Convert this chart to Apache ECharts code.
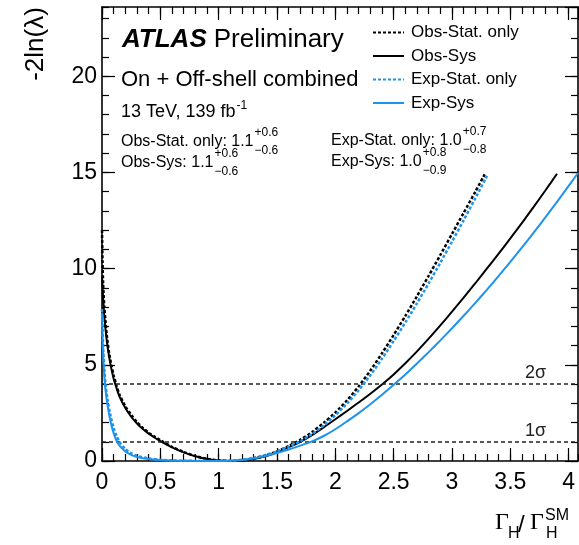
<!DOCTYPE html>
<html>
<head>
<meta charset="utf-8">
<script src="https://cdn.jsdelivr.net/npm/echarts@6/dist/echarts.min.js"></script>
<style>
  html, body { margin: 0; padding: 0; background: #fff; }
  #chart { width: 579px; height: 545px; }
</style>
</head>
<body>
<div id="chart"></div>
<script>
  const FONT = "'Liberation Sans', Arial, Helvetica, sans-serif";
  const SERIF = "'Liberation Serif', 'DejaVu Serif', serif";
  const BLUE = '#1e93ec';

  // profile likelihood scans: [Gamma_H/Gamma_H^SM, -2ln(lambda)]
  const obsStat = [
    [0, 12.0], [0.005, 10.3], [0.01, 9.2], [0.02, 8.0], [0.04, 6.6], [0.06, 5.65], [0.08, 5.0],
    [0.1, 4.45], [0.125, 3.9], [0.15, 3.45], [0.2, 2.85], [0.25, 2.4], [0.3, 2.02], [0.35, 1.72],
    [0.4, 1.47], [0.45, 1.27], [0.5, 1.08], [0.6, 0.74], [0.7, 0.47], [0.8, 0.26], [0.9, 0.11],
    [1.0, 0.03], [1.1, 0], [1.2, 0.03], [1.3, 0.12], [1.4, 0.28], [1.5, 0.5], [1.6, 0.78],
    [1.7, 1.1], [1.8, 1.5], [1.9, 1.98], [2.0, 2.52], [2.1, 3.15], [2.2, 3.88], [2.3, 4.7],
    [2.4, 5.6], [2.5, 6.55], [2.6, 7.54], [2.7, 8.57], [2.8, 9.63], [2.9, 10.71], [3.0, 11.8],
    [3.1, 12.9], [3.2, 14.0], [3.28, 14.9]
  ];
  const obsSys = [
    [0, 9.6], [0.005, 9.0], [0.01, 8.4], [0.02, 7.5], [0.04, 6.3], [0.06, 5.45], [0.08, 4.8],
    [0.1, 4.28], [0.125, 3.78], [0.15, 3.35], [0.2, 2.75], [0.25, 2.3], [0.3, 1.95], [0.35, 1.66],
    [0.4, 1.42], [0.45, 1.22], [0.5, 1.03], [0.6, 0.71], [0.7, 0.45], [0.8, 0.25], [0.9, 0.1],
    [1.0, 0.025], [1.1, 0], [1.2, 0.025], [1.3, 0.1], [1.4, 0.24], [1.5, 0.45], [1.6, 0.72],
    [1.7, 1.0], [1.8, 1.35], [1.9, 1.75], [2.0, 2.17], [2.1, 2.6], [2.2, 3.04], [2.3, 3.5],
    [2.4, 3.98], [2.5, 4.5], [2.6, 5.08], [2.7, 5.7], [2.8, 6.36], [2.9, 7.05], [3.0, 7.76],
    [3.1, 8.49], [3.2, 9.24], [3.3, 10.01], [3.4, 10.78], [3.5, 11.57], [3.6, 12.38], [3.7, 13.21],
    [3.8, 14.06], [3.9, 14.93]
  ];
  const expStat = [
    [0, 7.9], [0.005, 6.8], [0.01, 5.9], [0.02, 4.8], [0.03, 4.0], [0.05, 3.1], [0.075, 2.3],
    [0.1, 1.72], [0.125, 1.3], [0.15, 1.0], [0.2, 0.62], [0.25, 0.4], [0.3, 0.27], [0.4, 0.13],
    [0.5, 0.065], [0.6, 0.03], [0.7, 0.014], [0.8, 0.005], [0.9, 0.001], [1.0, 0], [1.1, 0.015],
    [1.2, 0.07], [1.3, 0.17], [1.4, 0.31], [1.5, 0.5], [1.6, 0.74], [1.7, 1.03], [1.8, 1.4],
    [1.9, 1.85], [2.0, 2.38], [2.1, 2.99], [2.2, 3.68], [2.3, 4.46], [2.4, 5.32], [2.5, 6.24],
    [2.6, 7.2], [2.7, 8.2], [2.8, 9.24], [2.9, 10.31], [3.0, 11.4], [3.1, 12.52], [3.2, 13.66],
    [3.3, 14.82]
  ];
  const expSys = [
    [0, 7.7], [0.005, 6.4], [0.01, 5.5], [0.02, 4.4], [0.03, 3.7], [0.05, 2.8], [0.075, 2.0],
    [0.1, 1.45], [0.125, 1.05], [0.15, 0.8], [0.2, 0.5], [0.25, 0.32], [0.3, 0.21], [0.4, 0.1],
    [0.5, 0.05], [0.6, 0.024], [0.7, 0.011], [0.8, 0.004], [0.9, 0.001], [1.0, 0], [1.1, 0.01],
    [1.2, 0.05], [1.3, 0.13], [1.4, 0.26], [1.5, 0.42], [1.6, 0.6], [1.7, 0.8], [1.8, 1.02],
    [1.9, 1.3], [2.0, 1.65], [2.1, 2.06], [2.2, 2.49], [2.3, 2.95], [2.4, 3.44], [2.5, 3.96],
    [2.6, 4.5], [2.7, 5.07], [2.8, 5.66], [2.9, 6.27], [3.0, 6.9], [3.1, 7.55], [3.2, 8.22],
    [3.3, 8.91], [3.4, 9.62], [3.5, 10.35], [3.6, 11.1], [3.7, 11.87], [3.8, 12.66], [3.9, 13.47],
    [4.0, 14.3], [4.08, 14.97]
  ];

  const seriesNames = ['Obs-Stat. only', 'Obs-Sys', 'Exp-Stat. only', 'Exp-Sys'];
  const sigmaLevels = [1, 4];
  const sigmaLabels = ['1σ', '2σ'];

  // fit results written on the plot
  const fitNames = ['Obs-Stat. only: ', 'Obs-Sys: ', 'Exp-Stat. only: ', 'Exp-Sys: '];
  const fitCentral = ['1.1', '1.1', '1.0', '1.0'];
  const fitUp = ['+0.6', '+0.6', '+0.7', '+0.8'];
  const fitDown = ['\u22120.6', '\u22120.6', '\u22120.8', '\u22120.9'];

  const xMax = 4.08, yMax = 23.6;

  // measure text so super/subscripts sit right after the base text
  const ctx = document.createElement('canvas').getContext('2d');
  function textWidth(str, size, weight, style, family) {
    ctx.font = (style || 'normal') + ' ' + (weight || 'normal') + ' ' + size + 'px ' + (family || FONT);
    return ctx.measureText(str).width;
  }

  function txt(x, y, text, size, extra) {
    extra = extra || {};
    return {
      type: 'text', x: x, y: y, rotation: extra.rotation || 0, silent: true,
      style: {
        text: text, fontSize: size, fontFamily: extra.family || FONT,
        fontWeight: extra.weight || 'normal', fontStyle: extra.style || 'normal',
        fill: '#000', align: extra.align || 'left', verticalAlign: 'middle'
      }
    };
  }

  const graphics = [];
  // ATLAS label
  graphics.push(txt(122, 40, 'ATLAS', 26, { weight: 'bold', style: 'italic' }));
  const atlasW = textWidth('ATLAS', 26, 'bold', 'italic');
  graphics.push(txt(122 + atlasW + 7, 40, 'Preliminary', 26));
  graphics.push(txt(121, 80, 'On + Off-shell combined', 22));
  graphics.push(txt(121, 112, '13 TeV, 139 fb', 18));
  graphics.push(txt(121 + textWidth('13 TeV, 139 fb', 18) + 1, 106, '-1', 12));

  // fit results
  const fitPos = [[121, 142], [121, 163], [331, 141], [331, 162]];
  for (let i = 0; i < fitNames.length; i++) {
    const base = fitNames[i] + fitCentral[i];
    const [bx, by] = fitPos[i];
    graphics.push(txt(bx, by, base, 16));
    const sx = bx + textWidth(base, 16) + 1;
    graphics.push(txt(sx, by - 9.5, fitUp[i], 12));
    graphics.push(txt(sx, by + 8.5, fitDown[i], 12));
  }

  // axis titles
  graphics.push(txt(36, 44, '-2ln(\u03bb)', 26, { rotation: Math.PI / 2, align: 'center' }));
  graphics.push(txt(495, 523, '\u0393', 24, { family: SERIF }));
  graphics.push(txt(508, 534, 'H', 16));
  graphics.push(txt(518, 525, '/', 24));
  graphics.push(txt(530, 523, '\u0393', 24, { family: SERIF }));
  graphics.push(txt(545, 516, 'SM', 16));
  graphics.push(txt(546, 534, 'H', 16));

  const axisColor = '#000';
  function xAxisDef(position, interval, major) {
    return {
      type: 'value', min: 0, max: xMax, interval: interval, position: position,
      axisLine: { show: major, onZero: false, lineStyle: { color: axisColor, width: 1.6 } },
      axisTick: { show: true, inside: true, length: major ? 13 : 7, lineStyle: { color: axisColor, width: 1.2 } },
      axisLabel: {
        show: major && position === 'bottom', showMaxLabel: false, margin: 10,
        fontSize: 23, fontFamily: FONT, color: '#000'
      },
      splitLine: { show: false }
    };
  }
  function yAxisDef(position, interval, major) {
    return {
      type: 'value', min: 0, max: yMax, interval: interval, position: position,
      axisLine: { show: major, onZero: false, lineStyle: { color: axisColor, width: 1.6 } },
      axisTick: { show: true, inside: true, length: major ? 13 : 7, lineStyle: { color: axisColor, width: 1.2 } },
      axisLabel: {
        show: major && position === 'left', showMaxLabel: false, margin: 5,
        fontSize: 23, fontFamily: FONT, color: '#000'
      },
      splitLine: { show: false }
    };
  }

  function curve(name, data, color, dashed, z) {
    return {
      name: name, type: 'line', data: data, symbol: 'none', showSymbol: false,
      smooth: 0.25, z: z, silent: true,
      xAxisIndex: 0, yAxisIndex: 0,
      itemStyle: { color: color },
      lineStyle: { color: color, width: dashed ? 2.5 : 2, type: dashed ? [3, 2] : 'solid' }
    };
  }

  const series = [
    curve(seriesNames[0], obsStat, '#000', true, 3),
    curve(seriesNames[1], obsSys, '#000', false, 4),
    curve(seriesNames[2], expStat, BLUE, true, 5),
    curve(seriesNames[3], expSys, BLUE, false, 6)
  ];
  series[0].markLine = {
    silent: true, symbol: ['none', 'none'], animation: false,
    lineStyle: { color: '#222', width: 1.5, type: [4, 3] },
    label: {
      show: true, position: 'insideEndTop', formatter: p => p.name,
      fontSize: 18, fontFamily: FONT, color: '#222', padding: [0, 30, 0, 0], distance: 2
    },
    data: sigmaLevels.map((v, i) => ({ yAxis: v, name: sigmaLabels[i] }))
  };

  const chart = echarts.init(document.getElementById('chart'));
  chart.setOption({
    animation: false,
    backgroundColor: '#fff',
    grid: { left: 102, right: 1, top: 7, bottom: 84, outerBoundsMode: 'none' },
    xAxis: [
      xAxisDef('bottom', 0.5, true), xAxisDef('bottom', 0.1, false),
      xAxisDef('top', 0.5, true), xAxisDef('top', 0.1, false)
    ],
    yAxis: [
      yAxisDef('left', 5, true), yAxisDef('left', 1, false),
      yAxisDef('right', 5, true), yAxisDef('right', 1, false)
    ],
    legend: {
      data: seriesNames, orient: 'vertical', left: 372, top: 24, padding: 0,
      itemWidth: 31, itemHeight: 12, itemGap: 6.5, selectedMode: false,
      itemStyle: { opacity: 0 },
      textStyle: { fontSize: 17, fontFamily: FONT, color: '#000', lineHeight: 17, padding: [0, 0, 0, 2] }
    },
    graphic: { elements: graphics },
    series: series
  });
</script>
</body>
</html>
